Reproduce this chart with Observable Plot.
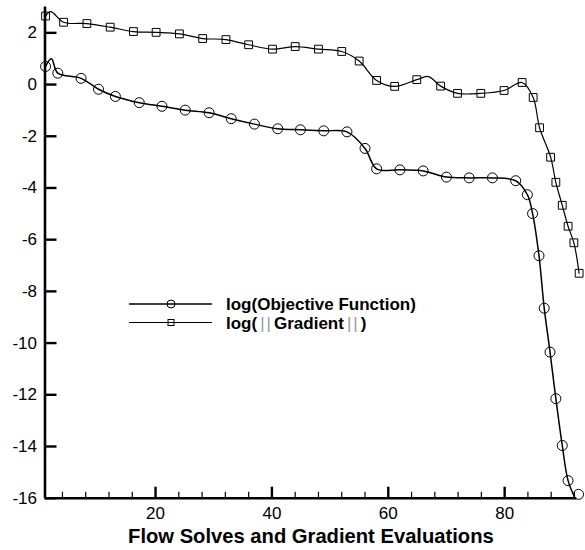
<!DOCTYPE html>
<html><head><meta charset="utf-8">
<script src="https://cdn.jsdelivr.net/npm/d3@7"></script>
<script src="https://cdn.jsdelivr.net/npm/@observablehq/plot@0.6"></script>
<style>body{margin:0;background:#fff} #chart{width:585px;height:550px}</style>
</head><body><div id="chart"></div>
<script>
// log(Objective Function): line through points, symbols at marker positions
const objLineX = [1.1, 2.1, 3.2, 7.2, 10.2, 13.1, 17.2, 21.1, 25.1, 29.2, 33.0, 37.0, 41.0, 44.9, 48.9, 52.9, 56.0, 58.0, 62.0, 66.0, 70.0, 73.9, 77.9, 81.9, 83.9, 84.8, 85.9, 86.8, 87.8, 88.8, 89.9, 90.9, 92.1];
const objLineY = [0.70, 1.00, 0.44, 0.24, -0.18, -0.46, -0.70, -0.84, -0.99, -1.09, -1.32, -1.53, -1.71, -1.75, -1.79, -1.83, -2.47, -3.26, -3.30, -3.34, -3.58, -3.61, -3.61, -3.72, -4.26, -4.99, -6.62, -8.65, -10.35, -12.15, -13.96, -15.32, -16.0];
const objSymX = [1.1, 3.2, 7.2, 10.2, 13.1, 17.2, 21.1, 25.1, 29.2, 33.0, 37.0, 41.0, 44.9, 48.9, 52.9, 56.0, 58.0, 62.0, 66.0, 70.0, 73.9, 77.9, 81.9, 83.9, 84.8, 85.9, 86.8, 87.8, 88.8, 89.9, 90.9, 92.7];
const objSymY = [0.70, 0.44, 0.24, -0.18, -0.46, -0.70, -0.84, -0.99, -1.09, -1.32, -1.53, -1.71, -1.75, -1.79, -1.83, -2.47, -3.26, -3.30, -3.34, -3.58, -3.61, -3.61, -3.72, -4.26, -4.99, -6.62, -8.65, -10.35, -12.15, -13.96, -15.32, -15.85];

// log(||Gradient||)
const gradLineX = [1.1, 2.0, 4.2, 8.2, 12.2, 16.2, 20.1, 24.1, 28.1, 32.1, 36.0, 40.1, 44.0, 48.0, 52.0, 55.0, 58.0, 61.1, 64.9, 66.9, 69.0, 71.9, 75.9, 79.9, 83.0, 84.9, 86.0, 87.9, 88.8, 89.9, 90.9, 91.9, 92.8];
const gradLineY = [2.65, 2.82, 2.41, 2.36, 2.22, 2.05, 2.02, 1.96, 1.78, 1.74, 1.54, 1.37, 1.47, 1.37, 1.28, 0.91, 0.16, -0.07, 0.19, 0.31, -0.06, -0.34, -0.34, -0.23, 0.08, -0.50, -1.67, -2.81, -3.78, -4.67, -5.48, -6.12, -7.30];
const gradSymX = [1.1, 4.2, 8.2, 12.2, 16.2, 20.1, 24.1, 28.1, 32.1, 36.0, 40.1, 44.0, 48.0, 52.0, 55.0, 58.0, 61.1, 64.9, 69.0, 71.9, 75.9, 79.9, 83.0, 84.9, 86.0, 87.9, 88.8, 89.9, 90.9, 91.9, 92.8];
const gradSymY = [2.65, 2.41, 2.36, 2.22, 2.05, 2.02, 1.96, 1.78, 1.74, 1.54, 1.37, 1.47, 1.37, 1.28, 0.91, 0.16, -0.07, 0.19, -0.06, -0.34, -0.34, -0.23, 0.08, -0.50, -1.67, -2.81, -3.78, -4.67, -5.48, -6.12, -7.30];

const xMajorTicks = [20, 40, 60, 80];
const xMinorTicks = [4, 8, 12, 16, 24, 28, 32, 36, 44, 48, 52, 56, 64, 68, 72, 76, 84, 88, 92];
const yTicks = [-16, -14, -12, -10, -8, -6, -4, -2, 0, 2];
const xTitle = "Flow Solves and Gradient Evaluations";
const legendLabels = ["log(Objective Function)", "log(||Gradient||)"];

const zip = (xs, ys) => xs.map((x, i) => ({x, y: ys[i]}));
const FONT = "'Liberation Sans', Arial, Helvetica, sans-serif";

const W = 585, H = 550, ML = 44.5, MR = 8.7, MT = 6.5, MB = 52.3;
const FW = W - ML - MR, FH = H - MT - MB;

const plot = Plot.plot({
  width: W, height: H,
  marginLeft: ML, marginRight: MR, marginTop: MT, marginBottom: MB,
  x: {domain: [1, 92.4], label: null, axis: null},
  y: {domain: [-16, 3], label: null, axis: null},
  style: {fontFamily: FONT, fontSize: "17px", color: "#000", background: "#fff", overflow: "visible"},
  marks: [
    Plot.line(zip(objLineX, objLineY), {x: "x", y: "y", curve: "catmull-rom", stroke: "#000", strokeWidth: 1.5}),
    Plot.dot(zip(objSymX, objSymY), {x: "x", y: "y", r: 5, stroke: "#000", strokeWidth: 1, fill: "none"}),
    Plot.line(zip(gradLineX, gradLineY), {x: "x", y: "y", curve: "catmull-rom", stroke: "#000", strokeWidth: 1.2}),
    Plot.dot(zip(gradSymX, gradSymY), {x: "x", y: "y", r: 4.4, symbol: "square", stroke: "#000", strokeWidth: 1, fill: "none"}),
    // inward ticks (frame-relative tick marks)
    Plot.tickX(xMajorTicks, {x: d => d, stroke: "#000", strokeWidth: 2.4, insetTop: FH - 11}),
    Plot.tickX(xMinorTicks, {x: d => d, stroke: "#000", strokeWidth: 1.2, insetTop: FH - 6}),
    Plot.tickY(yTicks, {y: d => d, stroke: "#000", strokeWidth: 2.4, insetRight: FW - 12}),
    Plot.ruleX([1], {stroke: "#000", strokeWidth: 2.6}),
    Plot.ruleY([-16], {stroke: "#000", strokeWidth: 2.6}),
    // tick labels
    Plot.text(xMajorTicks, {x: d => d, text: d => String(d), frameAnchor: "bottom", lineAnchor: "top", dy: 9, fontSize: 17}),
    Plot.text(yTicks, {y: d => d, text: d => String(d), frameAnchor: "left", textAnchor: "end", dx: -8, fontSize: 17}),
    Plot.text([xTitle], {frameAnchor: "bottom", dy: 45, fontWeight: "bold", fontSize: 20.2})
  ]
});
document.getElementById("chart").appendChild(plot);

// Legend
const svg = d3.select(plot);
const g = svg.append("g").attr("font-family", FONT).attr("text-anchor", "start");
const rows = [{y: 304, sym: "circle", sw: 1.6}, {y: 322.5, sym: "square", sw: 1.2}];
rows.forEach((r, i) => {
  g.append("line").attr("x1", 129).attr("x2", 212).attr("y1", r.y).attr("y2", r.y)
    .attr("stroke", "#000").attr("stroke-width", r.sw);
  if (r.sym === "circle") {
    g.append("circle").attr("cx", 171).attr("cy", r.y).attr("r", 4).attr("fill", "none").attr("stroke", "#000");
  } else {
    g.append("rect").attr("x", 168).attr("y", r.y - 3).attr("width", 6).attr("height", 6).attr("fill", "none").attr("stroke", "#000");
  }
  const t = g.append("text").attr("x", 226).attr("y", r.y + 6.1).attr("font-size", 17).attr("font-weight", "bold").attr("fill", "#000");
  const parts = legendLabels[i].split(/(\|\|)/);
  let after = false;
  parts.forEach(p => {
    if (p === "") return;
    if (p === "||") {
      t.append("tspan").attr("dx", 3).attr("font-weight", "normal").attr("fill", "#999").attr("letter-spacing", 2).text("||");
      after = true;
    } else {
      const s = t.append("tspan").text(p);
      if (after) s.attr("dx", 1);
    }
  });
});
</script></body></html>
